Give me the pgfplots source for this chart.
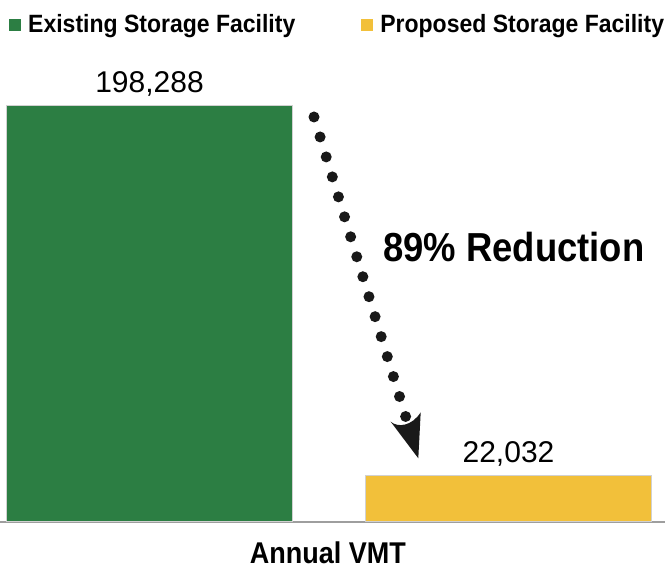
\documentclass[border=0pt]{standalone}
\usepackage{pgfplots}
\pgfplotsset{compat=1.18}
\usepackage{fontspec}
\setmainfont{Liberation Sans}
\newfontfamily\cnd[FakeStretch=0.92]{Liberation Sans}
\newfontfamily\cndb[FakeStretch=0.9]{Liberation Sans}
\definecolor{exgreen}{RGB}{44,126,67}
\definecolor{propyellow}{RGB}{242,192,58}
\begin{document}
\begin{tikzpicture}[x=1pt,y=1pt]
\path[use as bounding box] (0,0) rectangle (665,571);
\begin{axis}[
  at={(0pt,49pt)}, anchor=south west,
  scale only axis, width=665pt, height=461.56pt,
  xmin=-0.41643, xmax=1.43593, ymin=0, ymax=220000,
  axis x line*=bottom, axis y line=none,
  x axis line style={draw=black!38, line width=1.6pt, -},
  xtick=\empty, ytick=\empty,
  ybar, bar width=286pt,
  nodes near coords,
  /pgf/number format/.cd, fixed, precision=0, 1000 sep={,}, assume math mode=true, /pgfplots/.cd,
  nodes near coords style={font=\fontsize{30}{32}\selectfont, anchor=base, yshift=13pt, text=black},
  xlabel={Annual VMT},
  xlabel style={font=\cndb\bfseries\fontsize{30}{32}\selectfont, anchor=base, inner sep=0pt, at={(axis description cs:0.4932,-0.0899)}},
  legend columns=2,
  legend style={at={(axis description cs:0.01353,1.0779)}, anchor=west, draw=none, fill=none, inner sep=0pt,
    font=\cnd\bfseries\fontsize{25}{28}\selectfont,
    nodes={inner xsep=3.5pt, inner ysep=0pt},
    /tikz/every even column/.append style={column sep=62.5pt}},
  legend image code/.code={\fill[#1,draw=none] (0pt,-6.5pt) rectangle (12pt,5pt); \path[draw=none,fill=none] (0pt,0pt) -- (15.5pt,0pt);},
  clip=false,
]
\addplot[fill=exgreen, draw=black!18, line width=1pt, bar shift=0pt] coordinates {(0,198288)};
\addlegendentry{Existing Storage Facility}
\addplot[fill=propyellow, draw=black!18, line width=1pt, bar shift=0pt] coordinates {(1,22032)};
\addlegendentry{Proposed Storage Facility}
\end{axis}
% dotted arrow annotation
\draw[line width=11pt, line cap=round, dash pattern=on 0pt off 20.88pt, black!90] (314,454) -- (405.7,154.3);
\fill[black!90] (390.7,149.3) .. controls (398,143) and (412,145) .. (420.7,158.7) -- (418.3,112.7) -- cycle;
\node[anchor=base west, inner sep=0pt, font=\cndb\bfseries\fontsize{40.5}{44}\selectfont] at (383,309) {89\% Reduction};
\end{tikzpicture}
\end{document}
